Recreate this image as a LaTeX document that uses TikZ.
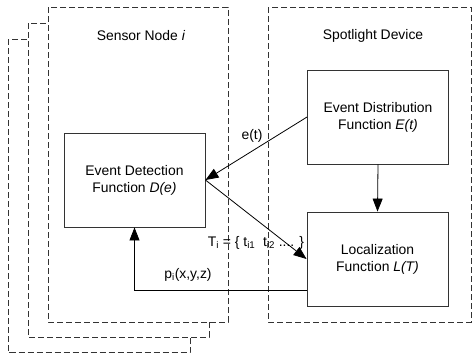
\documentclass[tikz,border=0pt]{standalone}
\usepackage{fontspec}
\setmainfont{Liberation Sans}
\usetikzlibrary{arrows.meta}

\tikzset{
	frame/.style={draw=black!80,dash pattern=on 6pt off 3pt,fill=white,line width=0.8pt},
	func/.style={draw=black!80,line width=0.9pt,align=center,minimum width=141pt,minimum height=94pt,inner sep=0pt},
	flow/.style={-{Triangle[length=13pt,width=10pt]},line width=0.8pt},
}

\begin{document}
\begin{tikzpicture}[x=1pt,y=-1pt,font=\fontsize{13.9}{17}\selectfont]
	\useasboundingbox (0,0) rectangle (472,354);
	% stacked sensor nodes, back to front
	\draw[frame] (8,39) rectangle (190,352.5);
	\draw[frame] (28,23) rectangle (209,337);
	\draw[frame] (48,7) rectangle (228,322);
	\draw[frame] (268,7) rectangle (471,322);
	\node (sensor) at (141,36) {Sensor Node \textit{i}};
	\node (spot) at (373,36) {Spotlight Device};

	\node[func] (detect) at (134.5,180) {Event Detection\\Function \textit{D(e)}};
	\node[func] (distrib) at (378,117) {Event Distribution\\Function \textit{E(t)}};
	\node[func] (local) at (377.5,259) {Localization\\Function \textit{L(T)}};

	\draw[flow] (distrib.west) -- (detect.east);
	\draw[flow] (detect.east) -- (local.west);
	\draw[flow] (distrib.south) -- (local.north);
	\draw[flow] ([yshift=-31pt]local.west) -| (detect.south);

	\node (event) at (252,136) {e(t)};
	\node (times) at (256,243) {T\textsubscript{i} = \{ t\textsubscript{i1}\ \ t\textsubscript{i2} .... \}};
	\node (pos) at (188,275) {p\textsubscript{i}(x,y,z)};
\end{tikzpicture}
\end{document}
